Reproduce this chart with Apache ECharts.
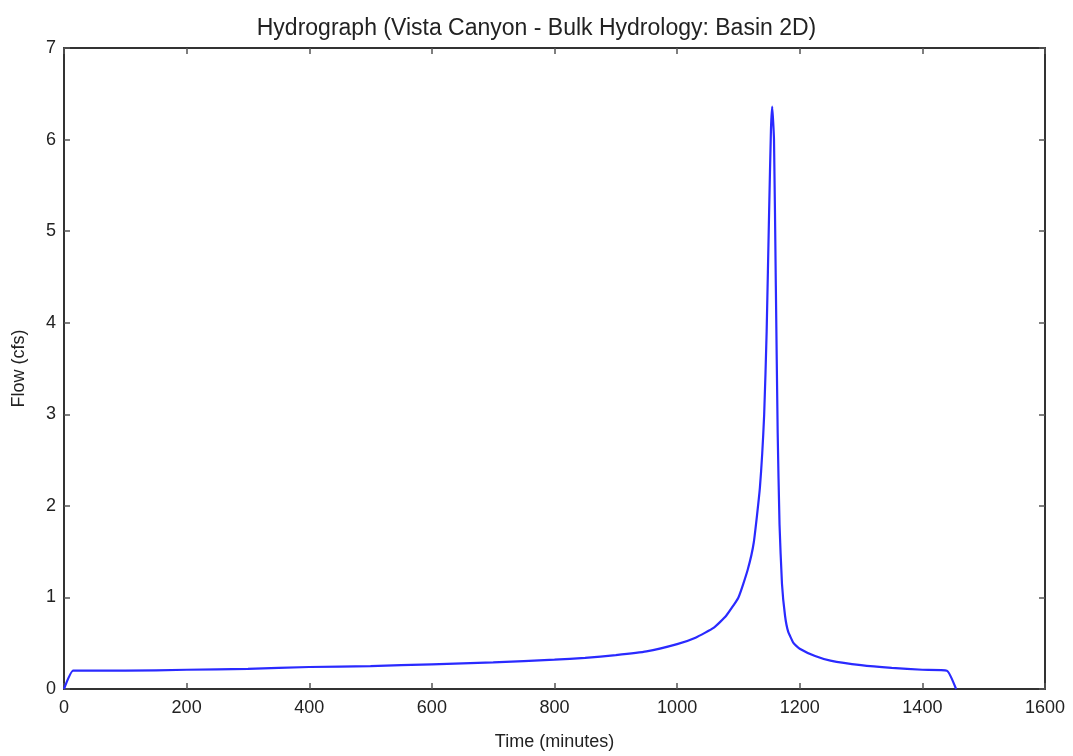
<!DOCTYPE html>
<html>
<head>
<meta charset="utf-8">
<script src="https://cdn.jsdelivr.net/npm/echarts@6/dist/echarts.min.js"></script>
<style>html,body{margin:0;padding:0;background:#fff}#c{width:1073px;height:756px}</style>
</head>
<body>
<div id="c"></div>
<script>
const titleText = "Hydrograph (Vista Canyon - Bulk Hydrology: Basin 2D)";
const xName = "Time (minutes)";
const yName = "Flow (cfs)";
const times = [0, 15, 50, 100, 200, 300, 400, 500, 600, 700, 800, 850, 900, 950, 1000, 1030, 1060, 1080, 1100, 1115, 1125, 1135, 1142, 1146, 1150, 1153, 1155, 1158, 1161, 1164, 1167, 1171, 1176, 1181, 1190, 1200, 1225, 1250, 1300, 1350, 1400, 1440, 1455];
const flows = [0, 0.2, 0.2, 0.2, 0.21, 0.22, 0.24, 0.25, 0.27, 0.29, 0.32, 0.34, 0.37, 0.41, 0.49, 0.56, 0.67, 0.8, 1.0, 1.3, 1.6, 2.2, 3.0, 3.9, 5.2, 6.1, 6.36, 6.0, 4.4, 2.8, 1.8, 1.15, 0.8, 0.63, 0.5, 0.44, 0.36, 0.31, 0.26, 0.23, 0.21, 0.2, 0];

const font = "'Liberation Sans', Arial, sans-serif";
const chart = echarts.init(document.getElementById('c'), null, {renderer: 'canvas'});
const axisLine = {show: true, onZero: false, lineStyle: {color: '#333', width: 2}};
const tick = {show: true, inside: true, length: 6, lineStyle: {color: '#555', width: 1.5}};
chart.setOption({
  animation: false,
  backgroundColor: '#fff',
  title: {text: titleText, left: 'center', top: 12, textStyle: {fontFamily: font, fontSize: 23, fontWeight: 'normal', color: '#222'}},
  grid: {left: 64, right: 28, top: 48, bottom: 64, containLabel: false},
  xAxis: [
    {type: 'value', min: 0, max: 1600, interval: 200, position: 'bottom',
     name: xName, nameLocation: 'middle', nameGap: 44,
     nameTextStyle: {fontFamily: font, fontSize: 18, color: '#222'},
     axisLine: axisLine, axisTick: tick, splitLine: {show: false},
     axisLabel: {fontFamily: font, fontSize: 18, color: '#222', margin: 10, formatter: v => String(v)}},
    {type: 'value', min: 0, max: 1600, interval: 200, position: 'top',
     axisLine: axisLine, axisTick: tick, splitLine: {show: false}, axisLabel: {show: false}}
  ],
  yAxis: [
    {type: 'value', min: 0, max: 7, interval: 1, position: 'left',
     name: yName, nameLocation: 'middle', nameGap: 36,
     nameTextStyle: {fontFamily: font, fontSize: 18, color: '#222'},
     axisLine: axisLine, axisTick: tick, splitLine: {show: false},
     axisLabel: {fontFamily: font, fontSize: 18, color: '#222', margin: 8}},
    {type: 'value', min: 0, max: 7, interval: 1, position: 'right',
     axisLine: axisLine, axisTick: tick, splitLine: {show: false}, axisLabel: {show: false}}
  ],
  series: [{
    type: 'line', xAxisIndex: 0, yAxisIndex: 0,
    data: times.map((t, i) => [t, flows[i]]),
    showSymbol: false, smooth: 0.15,
    lineStyle: {color: '#2a2aff', width: 2.2},
    clip: true
  }]
});
</script>
</body>
</html>
